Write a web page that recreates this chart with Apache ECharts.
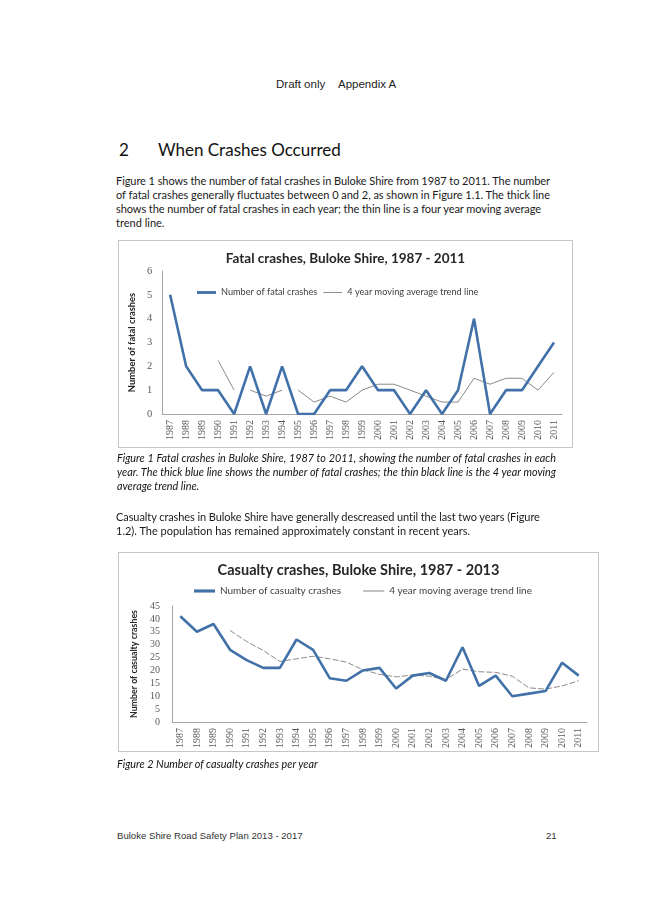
<!DOCTYPE html>
<html><head><meta charset="utf-8">
<script src="https://cdn.jsdelivr.net/npm/echarts@6.0.0/dist/echarts.min.js"></script>
<style>
html,body{margin:0;padding:0;background:#fff;}
#page{position:relative;width:651px;height:920px;overflow:hidden;background:#fff;color:#1a1a1a;}
.t{position:absolute;white-space:nowrap;}
.body{font-family:Lato,'Open Sans',sans-serif;font-size:11px;line-height:14px;color:#1a1a1a;}
.cap{font-family:Lato,'Open Sans',sans-serif;font-style:italic;font-size:10.8px;line-height:14px;color:#111;}
.arial{font-family:'Liberation Sans',Arial,sans-serif;}
.box{position:absolute;border:1.5px solid #c6c6c6;box-sizing:border-box;pointer-events:none;}
.chart{position:absolute;}
</style></head>
<body>
<div id="page">
  <div class="t arial" style="left:276px;top:78px;font-size:11.5px;color:#222;">Draft only</div>
  <div class="t arial" style="left:338px;top:78px;font-size:11.5px;color:#222;">Appendix A</div>

  <div class="t" style="left:119px;top:139px;font-family:Lato,sans-serif;font-size:17px;color:#111;">2</div>
  <div class="t" style="left:158px;top:139px;font-family:Lato,sans-serif;font-size:17px;color:#111;">When Crashes Occurred</div>

  <div class="t body fit" data-w="434" style="left:116px;top:174px;">Figure 1 shows the number of fatal crashes in Buloke Shire from 1987 to 2011. The number</div>
  <div class="t body fit" data-w="434" style="left:116px;top:188px;">of fatal crashes generally fluctuates between 0 and 2, as shown in Figure 1.1. The thick line</div>
  <div class="t body fit" data-w="425" style="left:116px;top:202px;">shows the number of fatal crashes in each year; the thin line is a four year moving average</div>
  <div class="t body" style="left:116px;top:216px;">trend line.</div>

  <div class="chart" id="c1" style="left:119px;top:241px;width:453px;height:206px;"></div>
  <div class="box" style="left:118px;top:240px;width:455px;height:208px;"></div>

  <div class="t cap fit" data-w="439" style="left:117px;top:451px;">Figure 1 Fatal crashes in Buloke Shire, 1987 to 2011, showing the number of fatal crashes in each</div>
  <div class="t cap fit" data-w="439" style="left:117px;top:465px;">year. The thick blue line shows the number of fatal crashes; the thin black line is the 4 year moving</div>
  <div class="t cap" style="left:117px;top:479px;">average trend line.</div>

  <div class="t body fit" data-w="424" style="left:116px;top:510px;">Casualty crashes in Buloke Shire have generally descreased until the last two years (Figure</div>
  <div class="t body" style="left:116px;top:524px;">1.2). The population has remained approximately constant in recent years.</div>

  <div class="chart" id="c2" style="left:119px;top:553px;width:479px;height:198px;"></div>
  <div class="box" style="left:118px;top:552px;width:481px;height:200px;"></div>

  <div class="t cap" style="left:117px;top:757px;">Figure 2 Number of casualty crashes per year</div>

  <div class="t arial" style="left:117px;top:830px;font-size:9.6px;color:#333;">Buloke Shire Road Safety Plan 2013 - 2017</div>
  <div class="t arial" style="left:546px;top:830px;font-size:9.6px;color:#333;">21</div>
</div>
<script>
// ---- data ----
const years = ['1987','1988','1989','1990','1991','1992','1993','1994','1995','1996','1997','1998','1999','2000','2001','2002','2003','2004','2005','2006','2007','2008','2009','2010','2011'];
const fatalCrashes = [5,2,1,1,0,2,0,2,0,0,1,1,2,1,1,0,1,0,1,4,0,1,1,2,3];
const fatalTrendA = [null,null,null,2.25,1,null,null,null,null,null,null,null,null,null,null,null,null,null,null,null,null,null,null,null,null];
const fatalTrendB = [null,null,null,null,null,1,0.75,1,null,null,null,null,null,null,null,null,null,null,null,null,null,null,null,null,null];
const fatalTrendC = [null,null,null,null,null,null,null,null,1,0.5,0.75,0.5,1,1.25,1.25,1,0.75,0.5,0.5,1.5,1.25,1.5,1.5,1,1.75];
const casualtyCrashes = [41,35,38,28,24,21,21,32,28,17,16,20,21,13,18,19,16,29,14,18,10,11,12,23,18];
const casualtyTrend = [null,null,null,35.5,31.25,27.75,23.5,24.5,25.5,24.5,23.25,20.25,18.5,17.5,18.25,17.75,16.5,20.5,19.5,19.25,17.75,13.25,12.75,14,16];
const fatalTicks = {min:0,max:6,interval:1};
const casualtyTicks = {min:0,max:45,interval:5};

// ---- justify text lines ----
document.querySelectorAll('.fit').forEach(el=>{
  const W = +el.dataset.w;
  const nat = el.getBoundingClientRect().width;
  const txt = el.textContent;
  const spaces = (txt.match(/ /g)||[]).length;
  if (nat > W) {
    el.style.letterSpacing = ((W-nat)/txt.length).toFixed(3)+'px';
  } else if (spaces>0) {
    el.style.wordSpacing = ((W-nat)/spaces).toFixed(2)+'px';
  }
});

const BLUE = '#4171a8';
const GRAY = '#8a8a8a';
const axisLbl = {color:'#595959', fontFamily:'Liberation Serif, serif', fontSize:10};
const ICON_THICK = 'path://M0,0h20v3h-20z';
const ICON_THIN = 'path://M0,0h20v1h-20z';

function baseX(){
  return {type:'category', data:years, boundaryGap:true,
    axisLine:{lineStyle:{color:'#a6a6a6'}}, axisTick:{show:false},
    axisLabel:Object.assign({rotate:90, interval:0, margin:6}, axisLbl)};
}

const c1 = echarts.init(document.getElementById('c1'), null, {renderer:'canvas'});
c1.setOption({
  animation:false,
  title:{text:'Fatal crashes, Buloke Shire, 1987 - 2011', left:'center', top:6,
    textStyle:{fontFamily:'Lato, sans-serif', fontWeight:'bold', fontSize:13.5, color:'#262626'}},
  legend:{left:73, top:42, itemWidth:19, itemHeight:8, itemGap:6,
    data:[{name:'Number of fatal crashes', icon:ICON_THICK},{name:'4 year moving average trend line', icon:ICON_THIN}],
    textStyle:{fontFamily:'Lato, sans-serif', fontSize:9.2, color:'#404040'}},
  grid:{left:35, right:10, top:30, bottom:33},
  xAxis:baseX(),
  yAxis:{type:'value', min:fatalTicks.min, max:fatalTicks.max, interval:fatalTicks.interval,
    name:'Number of fatal crashes', nameLocation:'middle', nameGap:20, nameRotate:90,
    nameTextStyle:{fontFamily:'Lato, sans-serif', fontWeight:'bold', fontSize:9.4, color:'#262626'},
    axisLine:{show:true, lineStyle:{color:'#a6a6a6'}}, axisTick:{show:false}, splitLine:{show:false},
    axisLabel:Object.assign({margin:10}, axisLbl, {fontSize:10.5})},
  series:[
    {name:'Number of fatal crashes', type:'line', data:fatalCrashes, symbol:'none',
      lineStyle:{color:BLUE, width:2.6}, itemStyle:{color:BLUE}, z:3},
    {name:'4 year moving average trend line', type:'line', data:fatalTrendA, symbol:'none',
      lineStyle:{color:GRAY, width:1}, itemStyle:{color:GRAY}, z:2},
    {name:'4 year moving average trend line', type:'line', data:fatalTrendB, symbol:'none',
      lineStyle:{color:GRAY, width:1}, itemStyle:{color:GRAY}, z:2},
    {name:'4 year moving average trend line', type:'line', data:fatalTrendC, symbol:'none',
      lineStyle:{color:GRAY, width:1}, itemStyle:{color:GRAY}, z:2}
  ]
});

const c2 = echarts.init(document.getElementById('c2'), null, {renderer:'canvas'});
c2.setOption({
  animation:false,
  title:{text:'Casualty crashes, Buloke Shire, 1987 - 2013', left:'center', top:5,
    textStyle:{fontFamily:'Lato, sans-serif', fontWeight:'bold', fontSize:14.5, color:'#262626'}},
  legend:{left:70, top:28, itemWidth:21, itemHeight:8, itemGap:22,
    data:[{name:'Number of casualty crashes', icon:ICON_THICK},{name:'4 year moving average trend line', icon:ICON_THIN}],
    textStyle:{fontFamily:'Lato, sans-serif', fontSize:10, color:'#404040'}},
  grid:{left:53, right:11, top:53, bottom:24},
  xAxis:baseX(),
  yAxis:{type:'value', min:casualtyTicks.min, max:casualtyTicks.max, interval:casualtyTicks.interval,
    name:'Number of casualty crashes', nameLocation:'middle', nameGap:28, nameRotate:90,
    nameTextStyle:{fontFamily:'Lato, sans-serif', fontWeight:'bold', fontSize:8.8, color:'#262626'},
    axisLine:{show:true, lineStyle:{color:'#a6a6a6'}}, axisTick:{show:false}, splitLine:{show:false},
    axisLabel:Object.assign({margin:12}, axisLbl)},
  series:[
    {name:'Number of casualty crashes', type:'line', data:casualtyCrashes, symbol:'none',
      lineStyle:{color:BLUE, width:2.6}, itemStyle:{color:BLUE}, z:3},
    {name:'4 year moving average trend line', type:'line', data:casualtyTrend, symbol:'none',
      lineStyle:{color:GRAY, width:1, type:[6,2]}, itemStyle:{color:GRAY}, z:2}
  ]
});
</script>
</body></html>
